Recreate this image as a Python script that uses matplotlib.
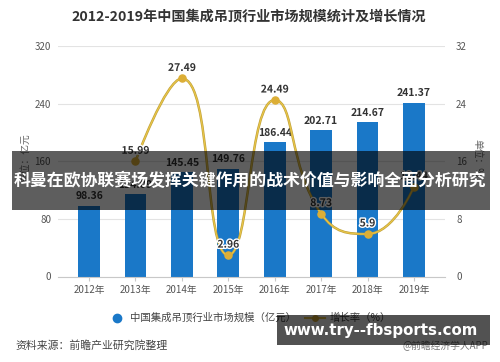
import matplotlib
matplotlib.use("Agg")
import matplotlib.pyplot as plt
from matplotlib.path import Path
from matplotlib.patches import PathPatch, Rectangle
from matplotlib.lines import Line2D
import matplotlib.patheffects as pe
import numpy as np

plt.rcParams['font.family'] = ['Noto Sans CJK SC', 'DejaVu Sans']

years = ["2012年", "2013年", "2014年", "2015年", "2016年", "2017年", "2018年", "2019年"]
market = [98.36, 114.09, 145.45, 149.76, 186.44, 202.71, 214.67, 241.37]
growth_idx = [1, 2, 3, 4, 5, 6, 7]
growth = [15.99, 27.49, 2.96, 24.49, 8.73, 5.9, 12.44]
left_ticks = [0, 80, 160, 240, 320]
right_ticks = [0, 8, 16, 24, 32]

title = "2012-2019年中国集成吊顶行业市场规模统计及增长情况"
legend_bar = "中国集成吊顶行业市场规模（亿元）"
legend_line = "增长率（%）"
source = "资料来源：前瞻产业研究院整理"
banner = "科曼在欧协联赛场发挥关键作用的战术价值与影响全面分析研究"
url = "www.try--fbsports.com"

W, H = 500, 362
fig = plt.figure(figsize=(5, 3.62), dpi=100)
fig.patch.set_facecolor('white')

ax = fig.add_axes([58 / W, 1 - 276.5 / H, (445 - 58) / W, (276.5 - 46) / H])
ax2 = ax.twinx()
ax.set_xlim(-0.67, 7.67)
ax.set_ylim(0, 320)
ax2.set_ylim(0, 32)

x = np.arange(len(years))
bar_color = '#1a78c8'
ax.bar(x, market, width=0.47, color=bar_color, zorder=2)
for xi, v in zip(x, market):
    ax.annotate(f"{v:.2f}", (xi, v), xytext=(0, 3), textcoords='offset points',
                ha='center', va='bottom', fontsize=7.5, fontweight='bold', color='#333333', zorder=5)

ax.set_yticks(left_ticks)
ax2.set_yticks(right_ticks)
ax.set_xticks(x)
ax.set_xticklabels(years)
for a in (ax, ax2):
    for s in a.spines.values():
        s.set_visible(False)
ax.spines['bottom'].set_visible(True)
ax.spines['bottom'].set_color('#c8c8c8')
ax.spines['bottom'].set_linewidth(0.8)
ax.tick_params(axis='y', length=0, labelsize=7, labelcolor='#555555', pad=5)
ax2.tick_params(axis='y', length=0, labelsize=7, labelcolor='#555555', pad=8)
ax.tick_params(axis='x', length=3, color='#c8c8c8', labelsize=7, labelcolor='#555555', pad=3)
ax.grid(axis='y', color='#e3e3e3', linewidth=0.8, zorder=0)
ax.set_axisbelow(True)

# smooth line (echarts-like bezier) through data points
fig.canvas.draw()
pts = ax2.transData.transform(np.column_stack([growth_idx, growth]))
smooth = 0.5
n = len(pts)
verts = [tuple(pts[0])]
codes = [Path.MOVETO]
cp0 = pts[0].copy()
for i in range(n - 1):
    nxt = pts[i + 1]
    if i + 1 < n - 1:
        prev_ = pts[i]
        cur = pts[i + 1]
        nn = pts[i + 2]
        v = nn - prev_
        l0 = np.hypot(*(cur - prev_))
        l1 = np.hypot(*(nn - cur))
        r = l1 / (l0 + l1)
        ncp0 = cur + v * smooth * r
        ncp0 = np.minimum(ncp0, np.maximum(nn, cur))
        ncp0 = np.maximum(ncp0, np.minimum(nn, cur))
        vv = ncp0 - cur
        cp1 = cur - vv * l0 / l1
        cp1 = np.minimum(cp1, np.maximum(prev_, cur))
        cp1 = np.maximum(cp1, np.minimum(prev_, cur))
        vv = cur - cp1
        ncp0 = cur + vv * l1 / l0
    else:
        cp1 = nxt.copy()
        ncp0 = None
    verts += [tuple(cp0), tuple(cp1), tuple(nxt)]
    codes += [Path.CURVE4] * 3
    cp0 = ncp0
inv = ax2.transData.inverted()
verts_d = inv.transform(np.array(verts))
line_color = '#e8c548'
ax2.add_patch(PathPatch(Path(verts_d, codes), facecolor='none', edgecolor='#bfa03a',
                        linewidth=1.8, zorder=3))
ax2.add_patch(PathPatch(Path(verts_d, codes), facecolor='none', edgecolor=line_color,
                        linewidth=0.9, zorder=3))
ax2.scatter(growth_idx, growth, s=26, color='#dcae36', zorder=4)
for xi, v in zip(growth_idx, growth):
    ax2.annotate(f"{v:g}", (xi, v), xytext=(0, 4), textcoords='offset points',
                 ha='center', va='bottom', fontsize=7.5, fontweight='bold', color='#333333',
                 path_effects=[pe.withStroke(linewidth=2, foreground='white')], zorder=6)

# axis unit labels
fig.text(25 / W, 1 - 158 / H, "单位：亿元", rotation=90, ha='center', va='center',
         fontsize=7, color='#666666')
fig.text(477 / W, 1 - 158 / H, "单位：%", rotation=-90, ha='center', va='center',
         fontsize=7, color='#666666')

# title
fig.text(249 / W, 1 - 17 / H, title, ha='center', va='center', fontsize=10.2,
         fontweight='bold', color='#333333')

# legend
fig.add_artist(Line2D([117 / W], [1 - 318 / H], marker='o', markersize=6, color=bar_color,
                      transform=fig.transFigure))
fig.text(130 / W, 1 - 318 / H, legend_bar, ha='left', va='center', fontsize=7.5, color='#444444')
fig.add_artist(Line2D([305 / W, 325 / W], [1 - 318 / H, 1 - 318 / H], color=line_color, lw=1.5,
                      transform=fig.transFigure))
fig.add_artist(Line2D([315 / W], [1 - 318 / H], marker='o', markersize=4, color='#dcae36',
                      transform=fig.transFigure))
fig.text(330 / W, 1 - 318 / H, legend_line, ha='left', va='center', fontsize=7.5, color='#444444')

# source
fig.text(15 / W, 1 - 345 / H, source, ha='left', va='center', fontsize=7.8, color='#444444')
fig.text(488 / W, 1 - 346 / H, "@前瞻经济学人APP", ha='right', va='center', fontsize=7,
         color='#777777')

# banner overlay
fig.add_artist(Rectangle((12 / W, 1 - 210 / H), (490 - 12) / W, (210 - 151) / H,
                         transform=fig.transFigure, facecolor='black', alpha=0.63,
                         edgecolor='none', zorder=10))
fig.text(250 / W, 1 - 181 / H, banner, ha='center', va='center', fontsize=12.2,
         fontweight='bold', color='white', zorder=11)

# url box
fig.add_artist(Rectangle((277 / W, 1 - 345 / H), (490 - 277) / W, 30 / H,
                         transform=fig.transFigure, facecolor='black', alpha=0.68,
                         edgecolor='none', zorder=10))
fig.text(381 / W, 1 - 330 / H, url, ha='center', va='center', fontsize=10.8,
         fontweight='bold', color='white', family='DejaVu Sans', zorder=11)

fig.savefig("out.png", dpi=100, facecolor='white')
